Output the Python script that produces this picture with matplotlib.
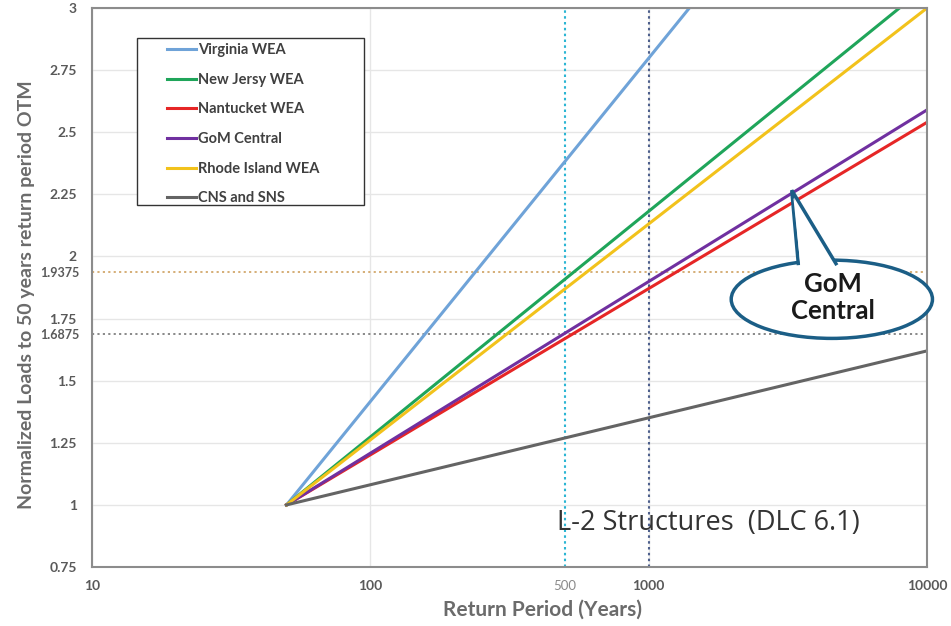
"""
Normalized loads vs return period for the WEA sites (DLC 6.1).
"""

import matplotlib.pyplot as plt
from matplotlib.patches import Ellipse, Polygon, Rectangle
from matplotlib.ticker import FixedLocator, FixedFormatter

# data: each curve is a straight line in log(x)
return_period = [50, 10000]
sites = ["Virginia WEA", "New Jersy WEA", "Nantucket WEA", "GoM Central",
         "Rhode Island WEA", "CNS and SNS"]
loads_at_end = [4.18, 3.09, 2.54, 2.59, 3.00, 1.62]
colors = ["#6fa3d8", "#1fa55a", "#e62626", "#7030a0", "#f2c21b", "#646464"]

ref_periods = [500, 1000]
ref_loads = [1.9375, 1.6875]

y_major = [0.75, 1, 1.25, 1.5, 1.75, 2, 2.25, 2.5, 2.75, 3]
y_major_labels = ["0.75", "1", "1.25", "1.5", "1.75", "2", "2.25", "2.5", "2.75", "3"]
x_major = [10, 100, 1000, 10000]

plt.rcParams["font.family"] = ["Lato", "DejaVu Sans"]

fig = plt.figure(figsize=(9.51, 6.26), dpi=100)
ax = fig.add_axes([0.0967, 0.0942, 0.8781, 0.8930])

for name, end, c in zip(sites, loads_at_end, colors):
    ax.plot(return_period, [1, end], color=c, lw=2.2, label=name)

# reference lines
ax.axvline(ref_periods[0], color="#2bb5d3", ls=(0, (1.2, 1.6)), lw=1.5, zorder=1)
ax.axvline(ref_periods[1], color="#4d5f8c", ls=(0, (1.2, 1.6)), lw=1.5, zorder=1)
ax.axhline(ref_loads[0], color="#d2a86c", ls=(0, (1.2, 1.8)), lw=1.3, zorder=1)
ax.axhline(ref_loads[1], color="#808080", ls=(0, (1.2, 1.8)), lw=1.3, zorder=1)

ax.set_xscale("log")
ax.set_xlim(10, 10000)
ax.set_ylim(0.75, 3)

ax.xaxis.set_major_locator(FixedLocator(x_major))
ax.xaxis.set_major_formatter(FixedFormatter([str(v) for v in x_major]))
ax.xaxis.set_minor_locator(FixedLocator([ref_periods[0]]))
ax.xaxis.set_minor_formatter(FixedFormatter([str(ref_periods[0])]))

ax.yaxis.set_major_locator(FixedLocator(y_major))
ax.yaxis.set_major_formatter(FixedFormatter(y_major_labels))
ax.yaxis.set_minor_locator(FixedLocator(ref_loads))
ax.yaxis.set_minor_formatter(FixedFormatter([str(v) for v in ref_loads]))

ax.tick_params(which="both", length=0, colors="#595959")
ax.tick_params(axis="y", which="major", labelsize=10, pad=11)
ax.tick_params(axis="y", which="minor", labelsize=9, pad=9)
ax.tick_params(axis="x", which="major", labelsize=10, pad=9)
ax.tick_params(axis="x", which="minor", labelsize=9.5, pad=9, labelcolor="#8a8a8a")
for lab in ax.get_xticklabels() + ax.get_yticklabels() + ax.get_yticklabels(minor=True):
    lab.set_fontweight("bold")

ax.grid(True, which="major", color="#e6e6e6", lw=1, zorder=0)
ax.set_axisbelow(True)
for s in ax.spines.values():
    s.set_color("#8c8c8c")
    s.set_linewidth(1.5)

ax.set_xlabel("Return Period (Years)", fontsize=15, fontweight="bold",
              color="#6b6b6b")
ax.xaxis.set_label_coords(0.54, -0.058)
ax.set_ylabel("Normalized Loads to 50 years return period OTM", fontsize=14,
              fontweight="bold", color="#6b6b6b")
ax.yaxis.set_label_coords(-0.068, 0.487)

# legend box drawn by hand so the padding can differ left/right vs top/bottom
ax.add_patch(Rectangle((0.054, 0.6476), 0.2717, 0.2984, transform=ax.transAxes,
                       facecolor="white", edgecolor="#333333", lw=1.0, zorder=3))
leg = ax.legend(loc="upper left", bbox_to_anchor=(0.090, 0.937), borderaxespad=0,
                fontsize=10.5, handlelength=2.0, handletextpad=0.15,
                labelspacing=1.07, frameon=False, borderpad=0)
leg.set_zorder(4)
for t in leg.get_texts():
    t.set_color("#404040")
    t.set_fontweight("bold")

ax.text(0.557, 0.066, "L-2 Structures  (DLC 6.1)", transform=ax.transAxes,
        fontsize=19.5, color="#333333", family=["Open Sans", "DejaVu Sans"],
        ha="left", va="baseline")

# callout bubble
edge = "#1b5e86"
pointer = Polygon([(0.846, 0.540), (0.838, 0.674), (0.892, 0.540)],
                  closed=False, transform=ax.transAxes, facecolor="white",
                  edgecolor=edge, lw=2.5, clip_on=False, zorder=5)
ax.add_patch(pointer)
bubble = Ellipse((0.886, 0.479), 0.241, 0.14, transform=ax.transAxes,
                 facecolor="white", edgecolor=edge, lw=2.5, clip_on=False, zorder=4)
ax.add_patch(bubble)
ax.add_patch(Polygon([(0.849, 0.530), (0.840, 0.660), (0.888, 0.530)],
                     transform=ax.transAxes, facecolor="white", edgecolor="none",
                     clip_on=False, zorder=5))
ax.text(0.887, 0.482, "GoM\nCentral", transform=ax.transAxes, ha="center",
        va="center", fontsize=18.5, fontweight="bold", color="#1a1a1a",
        linespacing=1.15, zorder=6)

fig.savefig("out.png", dpi=100)
